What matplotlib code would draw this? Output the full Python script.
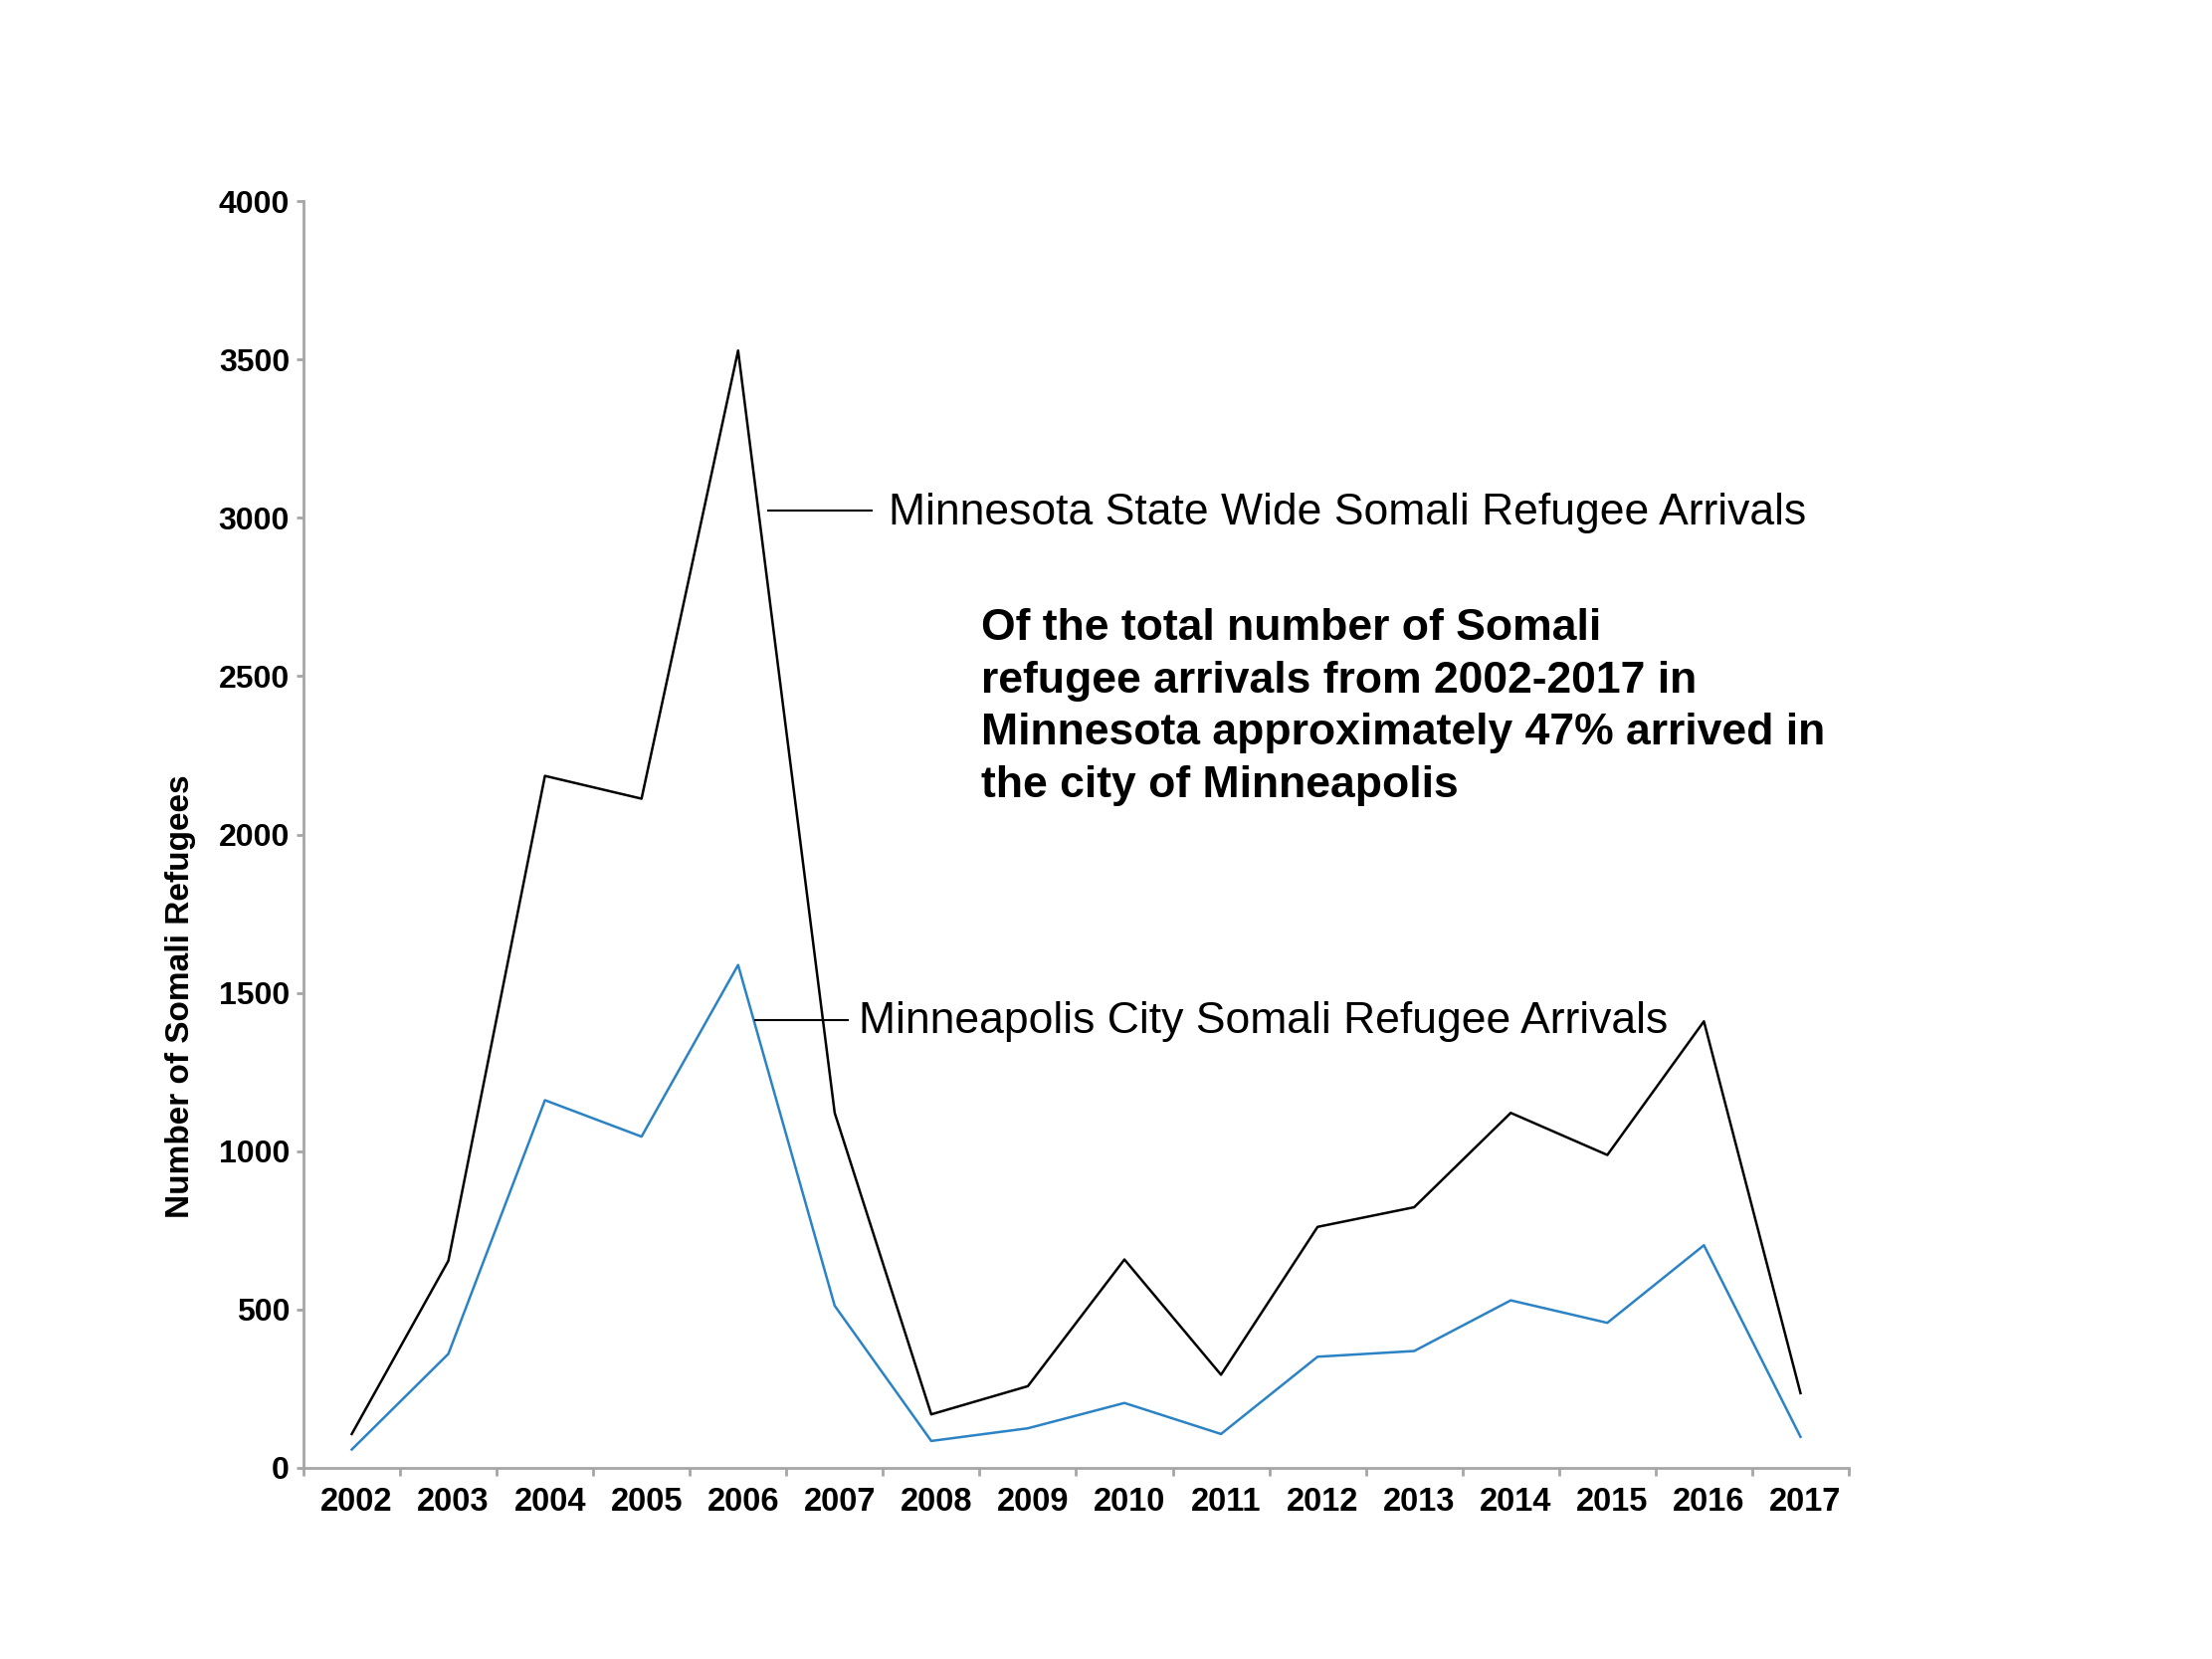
import matplotlib
matplotlib.use('Agg')
import matplotlib.pyplot as plt
import matplotlib.ticker as mticker
import matplotlib.transforms as mtransforms

plt.rcParams['font.family'] = ['Liberation Sans', 'DejaVu Sans']

years = ['2002', '2003', '2004', '2005', '2006', '2007', '2008', '2009',
         '2010', '2011', '2012', '2013', '2014', '2015', '2016', '2017']
state_arrivals = [107, 654, 2185, 2113, 3528, 1121, 169, 258,
                  658, 294, 761, 823, 1121, 988, 1410, 236]
city_arrivals = [58, 360, 1161, 1046, 1588, 512, 85, 125,
                 205, 107, 351, 369, 529, 458, 703, 98]

state_label = 'Minnesota State Wide Somali Refugee Arrivals'
city_label = 'Minneapolis City Somali Refugee Arrivals'
note = ('Of the total number of Somali\n'
        'refugee arrivals from 2002-2017 in\n'
        'Minnesota approximately 47% arrived in\n'
        'the city of Minneapolis')

fig = plt.figure(figsize=(22.23, 16.67), dpi=100)
ax = fig.add_axes([0.1372, 0.1152, 0.6986, 0.7636])

x = list(range(len(years)))
ax.plot(x, state_arrivals, color='black', lw=1.8)
ax.plot(x, city_arrivals, color='#2b83c5', lw=1.8)

ax.set_xlim(-0.5, len(years) - 0.5)
ax.set_ylim(0, 4000)

# spines
for side in ['top', 'right']:
    ax.spines[side].set_visible(False)
for side in ['left', 'bottom']:
    ax.spines[side].set_color('#a6a6a6')
    ax.spines[side].set_linewidth(2)

ax.yaxis.set_major_locator(mticker.MultipleLocator(500))
ax.tick_params(axis='y', colors='#a6a6a6', length=5, width=2, pad=5,
               labelcolor='black', labelsize=23)
for t in ax.get_yticklabels():
    t.set_fontweight('bold')

# x ticks between categories, labels at the centers
ax.set_xticks([i - 0.5 for i in range(len(years) + 1)])
ax.set_xticks(x, minor=True)
ax.set_xticklabels(years, minor=True, fontweight='bold', fontsize=23.5)
ax.tick_params(axis='x', which='major', colors='#a6a6a6', length=6, width=2,
               labelbottom=False)
ax.tick_params(axis='x', which='minor', length=0, pad=14, labelcolor='black')
shift = mtransforms.ScaledTranslation(5 / 100, 0, fig.dpi_scale_trans)
for t in ax.xaxis.get_minorticklabels():
    t.set_transform(t.get_transform() + shift)

ax.set_ylabel('Number of Somali Refugees', fontsize=24, fontweight='bold',
              va='center')
ax.yaxis.set_label_coords(-0.0792, 0.372)

# callouts
ax.plot([4.31, 5.38], [3023, 3023], color='black', lw=1.5)
ax.text(5.56, 2979, state_label, fontsize=32, va='baseline', ha='left')
ax.plot([4.18, 5.14], [1414, 1414], color='black', lw=1.5)
ax.text(5.25, 1373, city_label, fontsize=32, va='baseline', ha='left')

ax.text(6.52, 2714, note, fontsize=32, fontweight='bold', va='top',
        ha='left', linespacing=1.36)

fig.savefig('out.png', dpi=100)
